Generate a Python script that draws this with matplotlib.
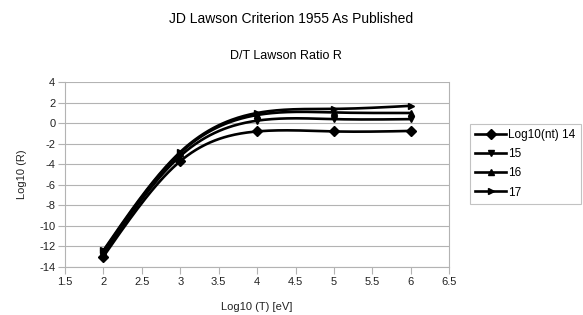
import numpy as np
import matplotlib
matplotlib.use("Agg")
import matplotlib.pyplot as plt

plt.rcParams['font.family'] = ['Liberation Sans', 'DejaVu Sans']
plt.rcParams['axes.unicode_minus'] = False

log_t = [2, 3, 4, 5, 6]
series_labels = ['Log10(nt) 14', '15', '16', '17']
r_14 = [-13.0, -3.7, -0.8, -0.8, -0.75]
r_15 = [-12.7, -3.2, 0.25, 0.4, 0.4]
r_16 = [-12.5, -2.9, 0.8, 1.05, 1.0]
r_17 = [-12.4, -2.8, 1.0, 1.4, 1.7]
markers = ['D', 'v', '^', '>']


def smooth(x, y, n=200):
    # natural cubic spline, only used to draw the curve between the points
    x = np.asarray(x, float)
    y = np.asarray(y, float)
    k = len(x)
    h = np.diff(x)
    a = np.zeros((k, k))
    b = np.zeros(k)
    a[0, 0] = a[-1, -1] = 1
    for i in range(1, k - 1):
        a[i, i - 1] = h[i - 1]
        a[i, i] = 2 * (h[i - 1] + h[i])
        a[i, i + 1] = h[i]
        b[i] = 3 * ((y[i + 1] - y[i]) / h[i] - (y[i] - y[i - 1]) / h[i - 1])
    c = np.linalg.solve(a, b)
    xs = np.linspace(x[0], x[-1], n)
    ys = np.empty_like(xs)
    for j, xv in enumerate(xs):
        i = min(np.searchsorted(x, xv, side='right') - 1, k - 2)
        dx = xv - x[i]
        bb = (y[i + 1] - y[i]) / h[i] - h[i] * (2 * c[i] + c[i + 1]) / 3
        d = (c[i + 1] - c[i]) / (3 * h[i])
        ys[j] = y[i] + bb * dx + c[i] * dx ** 2 + d * dx ** 3
    return xs, ys


fig = plt.figure(figsize=(5.83, 3.15), dpi=100)
ax = fig.add_axes([0.1115, 0.153, 0.659, 0.586])

for vals, lab, m in zip([r_14, r_15, r_16, r_17], series_labels, markers):
    xs, ys = smooth(log_t, vals)
    ax.plot(xs, ys, color='black', lw=1.9, solid_capstyle='round')
    ax.plot(log_t, vals, linestyle='none', marker=m, color='black', ms=5)
    ax.plot([], [], color='black', lw=1.9, marker=m, ms=5, label=lab)

ax.set_xlim(1.5, 6.5)
ax.set_ylim(-14, 4)
ax.set_xticks(np.arange(1.5, 6.51, 0.5))
ax.set_xticklabels(['1.5', '2', '2.5', '3', '3.5', '4', '4.5', '5', '5.5', '6', '6.5'])
ax.set_yticks(np.arange(-14, 4.1, 2))
ax.yaxis.grid(True, color='#b3b3b3', lw=0.8)
ax.set_axisbelow(True)
for s in ax.spines.values():
    s.set_color('#b3b3b3')
    s.set_linewidth(0.8)
ax.spines['top'].set_visible(False)
ax.tick_params(axis='both', labelsize=8, color='#b3b3b3', length=5, width=0.8,
               labelcolor='#222222')
ax.tick_params(axis='y', pad=2)
ax.tick_params(axis='x', pad=2.5)
ax.set_xlabel('Log10 (T) [eV]', fontsize=8, labelpad=11, color='#222222')
ax.set_ylabel('Log10 (R)', fontsize=8, labelpad=9, color='#222222')

fig.text(0.5, 0.94, 'JD Lawson Criterion 1955 As Published', ha='center', va='center', fontsize=10)
fig.text(0.49, 0.823, 'D/T Lawson Ratio R', ha='center', va='center', fontsize=9)

leg = fig.legend(loc='upper left', bbox_to_anchor=(470 / 583, 1 - 124 / 315), fontsize=8.5,
                 frameon=True, fancybox=False, edgecolor='#b3b3b3', handlelength=2.6,
                 handletextpad=0.2, labelspacing=0.6, borderaxespad=0, borderpad=0.45)
leg.get_frame().set_linewidth(0.8)

fig.savefig('out.png', dpi=100)
